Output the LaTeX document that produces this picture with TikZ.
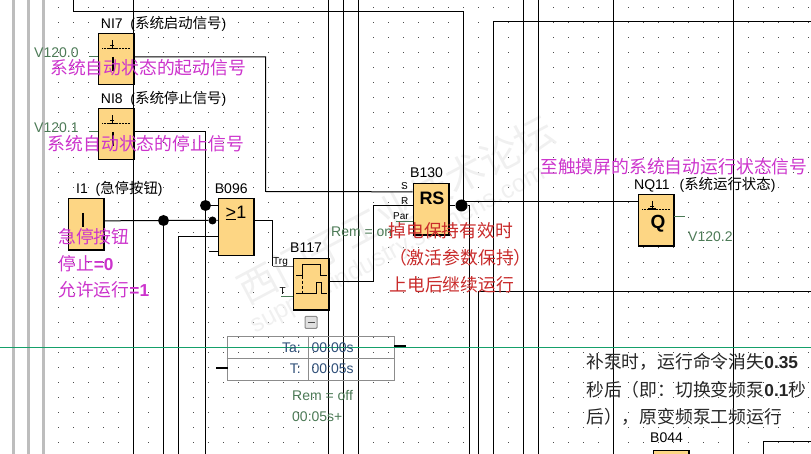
\documentclass[tikz,border=0pt]{standalone}
\usepackage{fontspec}
\setmainfont{Liberation Sans}
\newfontfamily\cjk[Scale=1.03]{Noto Sans CJK SC}
\usetikzlibrary{positioning}
\definecolor{blockfill}{HTML}{FDD684}
\definecolor{notepink}{HTML}{CC33CC}
\definecolor{notered}{HTML}{C92B2B}
\definecolor{pingreen}{HTML}{4C7A56}
\definecolor{parblue}{HTML}{2F4F78}
\definecolor{railgray}{HTML}{BDBDBD}
\definecolor{cutgreen}{HTML}{15A06A}

\begin{document}
\begin{tikzpicture}[
    x=1pt, y=-1pt,
    griddot/.style = {fill=black!70},
    wire/.style    = {draw=black, line width=1pt},
    stub/.style    = {draw=pingreen, line width=0.7pt},
    block/.style   = {draw=black, line width=0.7pt, fill=blockfill, inner sep=0pt,
                      minimum width=35.5pt, minimum height=51pt, anchor=north west},
    blockedge/.style = {draw=black, line width=1.6pt},
    blockmark/.style = {inner sep=0pt, font=\fontsize{18}{20}\selectfont},
    lbl/.style     = {anchor=base west, inner sep=0pt, font=\fontsize{14}{16}\selectfont},
    pinlbl/.style  = {anchor=base west, inner sep=0pt, font=\fontsize{10}{12}\selectfont},
    addr/.style    = {lbl, text=pingreen},
    parval/.style  = {lbl, text=parblue},
    note/.style    = {anchor=base west, inner sep=0pt, font=\fontsize{17.3}{20}\selectfont},
    notep/.style   = {note, text=notepink},
    noter/.style   = {note, text=notered},
    noteb/.style   = {note, text=black!85},
    jointdot/.style = {circle, fill=black, inner sep=0pt},
    mask/.style    = {anchor=center, inner sep=0pt, text=black!6, rotate=28},
    parbox/.style  = {draw=black!45, line width=1pt, inner sep=0pt, anchor=north west,
                      minimum width=167.5pt, minimum height=44.5pt},
    contact/.pic   = {
      \draw[densely dotted, line width=0.5pt] (-10,0) -- (18,0);
      \draw[line width=1.3pt] (-4,0) -- (4,0);
      \draw[line width=0.6pt] (0,-8) -- (0,0);
      \draw[line width=0.6pt] (-2,-3) -- (2,-3);
    },
]
\useasboundingbox (0,0) rectangle (811,454);
\clip (0,0) rectangle (811,454);

% --- Puntos de la rejilla ---
\foreach \px in {58,73,...,808}
  \foreach \py in {7,22,...,442}
    \fill[griddot] (\px,\py) rectangle +(1,1);

% --- Marca de agua ---
\node[mask, font=\cjk\fontsize{38}{40}\selectfont] (maskcn) at (396,210) {西门子工业技术论坛};
\node[mask, font=\fontsize{25}{27}\selectfont] (masken) at (398,250) {support.industry.siemens.com};

% --- Carriles grises ---
\foreach \x/\n in {13.5/a,28.5/b,43.5/c} {
  \coordinate (railtop\n) at (\x,0);
  \coordinate (railbot\n) at (\x,454);
  \draw[draw=railgray, line width=3pt] (railtop\n) -- (railbot\n);
}

% --- Bloques ---
\node[block] (NI7)  at (97.5,33)    {};
\node[block] (NI8)  at (97.5,108)   {};
\node[block] (I1)   at (67.5,198.5) {};
\node[block, minimum height=56.5pt] (B096) at (217.5,198.5) {};
\node[block] (B117) at (292.5,258)  {};
\node[block] (B130) at (412.7,183.3) {};
\node[block] (NQ11) at (637.7,194.3) {};
\node[block] (B044) at (652.7,450)  {};
\foreach \b in {NI7,NI8,I1,B096,B117,B130,NQ11,B044}
  \draw[blockedge] (\b.north east) -- (\b.south east) -- (\b.south west);

% --- Lineas verticales de toda la altura ---
\foreach \x/\n in {133.5/a,328.5/b,343.5/c,358.5/d,523.5/e,538.5/f,613.5/g,733.5/h} {
  \coordinate (bustop\n) at (\x,0);
  \coordinate (busbot\n) at (\x,454);
  \draw[wire] (bustop\n) -- (busbot\n);
}

% --- Puntos de union ---
\node[jointdot, minimum size=11pt]  (jI1)   at (163.5,220.5) {};
\node[jointdot, minimum size=11pt]  (jNI8)  at (205.5,205.5) {};
\node[jointdot, minimum size=8pt]   (jB096) at (212.5,220.5) {};
\node[jointdot, minimum size=12pt]  (jRS)   at (461.5,205.5) {};

% --- Extremos libres ---
\coordinate (topA)  at (73.5,0);
\coordinate (cornA) at (463.5,11.5);
\coordinate (jogS)  at (265.5,191.5);
\coordinate (botI1)   at (163.5,454);
\coordinate (botNI8)  at (205.5,454);
\coordinate (jogB096) at (178.5,236.5);
\coordinate (botB096) at (178.5,454);
\coordinate (jogTrg)  at (272.5,266.5);
\coordinate (jogR)    at (373.5,205.5);
\coordinate (startQ)  at (463.5,201.5);
\coordinate (botRS)   at (469.5,454);
\coordinate (botX)    at (478.5,454);
\coordinate (endX)    at (811,291.5);
\coordinate (botY)    at (493.5,454);
\coordinate (endY)    at (811,21.5);
\coordinate (botZ)    at (763.5,454);
\coordinate (endZ)    at (811,441.5);

% --- Conexiones ---
\draw[wire] (topA) |- (cornA) -- (cornA |- jRS);
\draw[wire] ([yshift=2]NI7.east) -| (jogS) -- ([yshift=17.3]B130.west);
\draw[wire] ([yshift=2]NI8.east) -| (jNI8) -- (botNI8);
\draw[wire] (jNI8) -- (jNI8 -| B096.west);
\draw[wire] ([yshift=3.5]I1.east) -- (jI1) -- (jB096) -- (jB096 -| B096.west);
\draw[wire] (jI1) -- (botI1);
\draw[wire] (botB096) |- (jogB096 -| B096.west);
\draw[wire] (B096.west |- 0,251.5) -- ++(-9,0);
\draw[wire] (B096.east |- jB096) -| (jogTrg);
\draw[stub, draw=black!55] (jogTrg) -- (jogTrg -| B117.west);
\draw[stub] (B117.west |- 0,296.5) -- ++(-12,0);
\draw[wire] (B117.east |- 0,281.5) -| (jogR) -- (jogR -| B130.west);
\draw[stub] (B130.west |- 0,221.5) -- ++(-17,0);
\draw[wire] (jRS) -- (jRS -| B130.east);
\draw[wire] (jRS) -| (botRS);
\draw[wire] (startQ) -- (startQ -| NQ11.west);
\draw[wire] (botX) |- (endX);
\draw[wire] (botY) |- (endY);
\draw[wire] (botZ) |- (endZ);
\draw[stub] ([yshift=2]NI7.west) -- ++(-9,0);
\draw[stub] ([yshift=2]NI8.west) -- ++(-9,0);
\draw[stub] ([yshift=4]NQ11.east) -- ++(11,0);

% --- Simbolos de los bloques ---
\pic at (112,48.5) {contact};
\pic at (112,123.5) {contact};
\pic at (652,209) {contact};
\draw[line width=1.6pt] (113,57) -- (113,71);
\draw[line width=1.6pt] (113,132) -- (113,146);
\draw[line width=1.6pt] (83,213) -- (83,227);
\draw[line width=0.7pt] (296,275.7) -- (302.3,275.7) -- (302.3,264.3) -- (320.7,264.3) -- (320.7,275.7) -- (327,275.7);
\draw[line width=0.7pt] (296,293.3) -- (316.7,293.3) -- (316.7,282.3) -- (321.7,282.3) -- (321.7,293.3) -- (327,293.3);
\draw[densely dashed, line width=0.5pt] (302.3,275.7) -- (302.3,293.3);
\node[blockmark] (mkB096) at (236,213) {\underline{>}1};
\node[blockmark, font=\bfseries\fontsize{18}{20}\selectfont] (mkB130) at (432,198.5) {RS};
\node[blockmark, font=\bfseries\fontsize{19}{20}\selectfont] (mkNQ11) at (658,223.5) {Q};

% --- Caja de parametros ---
\node[parbox] (parB117) at (226.5,335.5) {};
\coordinate (parsplitT) at (308.5,335.5);
\coordinate (parsplitB) at (308.5,380);
\draw[draw=black!45, line width=0.8pt] (parB117.west) -- (parB117.east);
\draw[draw=black!45, line width=0.8pt] (parsplitT) -- (parsplitB);
\coordinate (tickRa) at (394,345.6);
\coordinate (tickRb) at (406,345.6);
\coordinate (tickLa) at (216,368);
\coordinate (tickLb) at (228,368);
\draw[draw=black, line width=2pt] (tickRa) -- (tickRb);
\draw[draw=black, line width=2pt] (tickLa) -- (tickLb);
\node[draw=black!45, fill=black!12, rounded corners=1pt, line width=1pt, inner sep=0pt,
      minimum size=12pt] (btnB117) at (311,322.3) {};
\draw[draw=black!70, line width=1pt] ([xshift=-3.5]btnB117.center) -- ([xshift=3.5]btnB117.center);

% --- Linea verde horizontal ---
\coordinate (cutL) at (0,347.5);
\coordinate (cutR) at (811,347.5);
\draw[draw=cutgreen, line width=1.3pt] (cutL) -- (cutR);

% --- Etiquetas de bloque ---
\node[lbl] (tNI7)  at (100.7,28.3)  {NI7\ \ ({\cjk 系统启动信号})};
\node[lbl] (tNI8)  at (100.7,103.3) {NI8\ \ ({\cjk 系统停止信号})};
\node[lbl] (tI1)   at (76,193.3)    {I1\ \ ({\cjk 急停按钮})};
\node[lbl] (tB096) at (214.7,193.3) {B096};
\node[lbl] (tB117) at (290,252.7)   {B117};
\node[lbl] (tB130) at (410,177.3)   {B130};
\node[lbl] (tNQ11) at (634,189.3)   {NQ11\hspace{6pt} ({\cjk 系统运行状态})};
\node[lbl] (tB044) at (650,442.7)   {B044};

% --- Pines ---
\node[pinlbl] (pS)   at (401,190)   {S};
\node[pinlbl] (pR)   at (401,204.5) {R};
\node[pinlbl] (pPar) at (393,220)   {Par};
\node[pinlbl] (pTrg) at (273,265)   {Trg};
\node[pinlbl] (pT)   at (279.5,294.5) {T};

% --- Direcciones y parametros ---
\node[addr] (a0) at (34,58)     {V120.0};
\node[addr] (a1) at (34,133)    {V120.1};
\node[addr] (a2) at (688,241.7) {V120.2};
\node[addr] (remOn)  at (331,237)   {Rem = on};
\node[addr] (remOff) at (292,400)   {Rem = off};
\node[addr] (remT)   at (292,421.7) {00:05s+};
\node[parval, anchor=base east] (pTa)  at (301,352) {Ta:};
\node[parval] (pTav) at (311.5,352) {00:00s};
\node[parval, anchor=base east] (pTt)  at (301,373) {T:};
\node[parval] (pTtv) at (311.5,373) {00:05s};

% --- Notas ---
\node[notep] (n1) at (50,75)     {\cjk 系统自动状态的起动信号};
\node[notep] (n2) at (47.7,150.7) {\cjk 系统自动状态的停止信号};
\node[notep] (n3) at (58,243.7)  {\cjk 急停按钮};
\node[notep] (n4) at (58,270.3)  {{\cjk 停止}\textbf{=0}};
\node[notep] (n5) at (58,297)    {{\cjk 允许运行}\textbf{=1}};
\node[notep] (n6) at (540,174)   {\cjk 至触摸屏的系统自动运行状态信号};
\node[noter] (n7) at (388.3,237.3) {\cjk 掉电保持有效时};
\node[noter] (n8) at (388.9,264.7) {\cjk （激活参数保持）};
\node[noter] (n9) at (389.3,291) {\cjk 上电后继续运行};
\node[noteb] (n10) at (586,368.7) {{\cjk 补泵时，运行命令消失}\textbf{0.35}};
\node[noteb] (n11) at (586,396)   {{\cjk 秒后（即：切换变频泵}\textbf{0.1}{\cjk 秒}};
\node[noteb] (n12) at (586,423)   {\cjk 后），原变频泵工频运行};

\end{tikzpicture}
\end{document}
